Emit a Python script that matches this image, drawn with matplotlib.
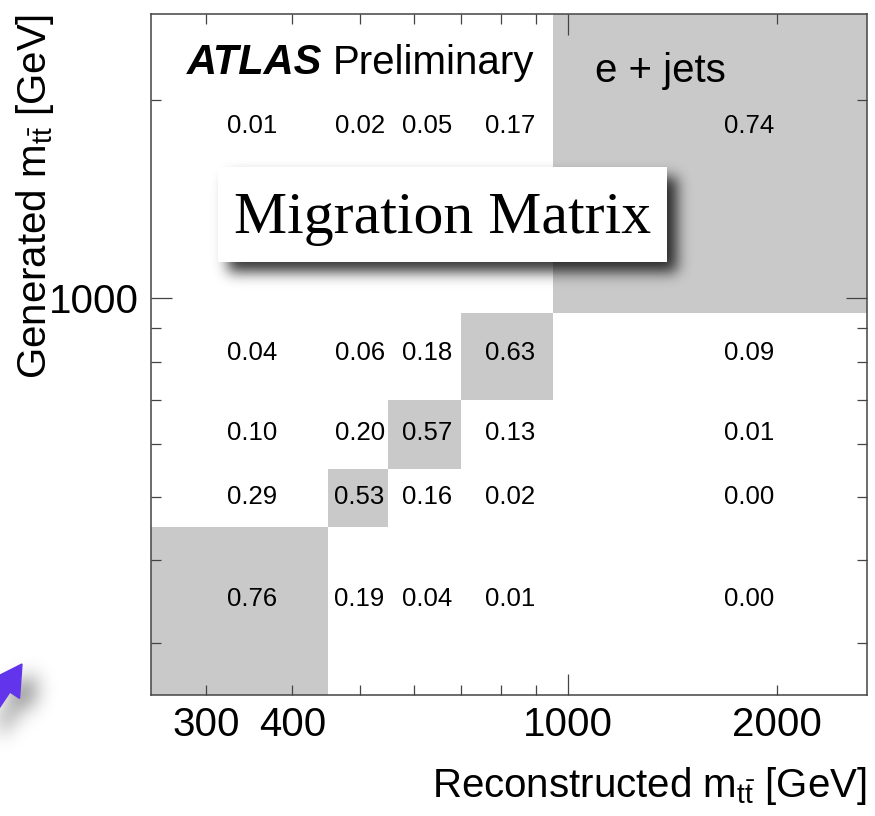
import math
import numpy as np
import matplotlib
matplotlib.use('Agg')
import matplotlib.pyplot as plt
from matplotlib.colors import ListedColormap, BoundaryNorm
from matplotlib.patches import Rectangle, FancyArrow
from matplotlib.path import Path
import matplotlib.ticker as mtick

plt.rcParams['font.family'] = 'Liberation Sans'
plt.rcParams['mathtext.fontset'] = 'custom'
plt.rcParams['mathtext.rm'] = 'Liberation Sans'
plt.rcParams['mathtext.it'] = 'Liberation Sans:italic'
plt.rcParams['mathtext.bf'] = 'Liberation Sans:bold'

# bin edges in m_tt [GeV], same binning on both axes
bin_edges = [250, 450, 550, 700, 950, 2700]
# rows: generated bin (low -> high), columns: reconstructed bin (low -> high)
migration = [
    [0.76, 0.19, 0.04, 0.01, 0.00],
    [0.29, 0.53, 0.16, 0.02, 0.00],
    [0.10, 0.20, 0.57, 0.13, 0.01],
    [0.04, 0.06, 0.18, 0.63, 0.09],
    [0.01, 0.02, 0.05, 0.17, 0.74],
]
xtick_labels = [300, 400, 1000, 2000]
ytick_labels = [1000]

W, H = 875, 816
fig = plt.figure(figsize=(W / 100, H / 100), dpi=100)
ax = fig.add_axes([151 / W, 1 - 695 / H, 716 / W, 681 / H])

edges = np.array(bin_edges, dtype=float)
vals = np.array(migration)
cmap = ListedColormap(['white', '#c9c9c9'])
norm = BoundaryNorm([0, 0.5, 1.0], cmap.N)
ax.pcolormesh(edges, edges, vals, cmap=cmap, norm=norm)

centers = 0.5 * (edges[:-1] + edges[1:])
for i, yc in enumerate(centers):
    for j, xc in enumerate(centers):
        ax.text(xc, yc, f'{vals[i, j]:.2f}', ha='center', va='center',
                fontsize=18.5, color='black')

ax.set_xscale('log')
ax.set_yscale('log')
ax.set_xlim(edges[0], edges[-1])
ax.set_ylim(edges[0], edges[-1])

def pick(labels):
    return mtick.FuncFormatter(lambda v, p: f'{v:.0f}' if int(round(v)) in labels else '')

ax.xaxis.set_major_formatter(pick(xtick_labels))
ax.xaxis.set_minor_formatter(pick(xtick_labels))
ax.yaxis.set_major_formatter(pick(ytick_labels))
ax.yaxis.set_minor_formatter(pick(ytick_labels))

ax.tick_params(which='both', direction='in', top=True, right=True,
               color='#444444', width=0.9, labelsize=29)
ax.tick_params(which='major', length=15)
ax.tick_params(which='minor', length=7.5)
ax.tick_params(axis='x', which='both', pad=8)
ax.tick_params(axis='y', which='both', pad=9)
for sp in ax.spines.values():
    sp.set_color('#444444')
    sp.set_linewidth(1.1)

ax.set_xlabel(r'Reconstructed m$_{\mathrm{t\bar{t}}}$ [GeV]', fontsize=29, loc='right')
ax.set_ylabel(r'Generated m$_{\mathrm{t\bar{t}}}$ [GeV]', fontsize=29, loc='top')
ax.xaxis.set_label_coords(1.0, -0.103)
ax.yaxis.set_label_coords(-0.132, 1.0)

ax.text(0.050, 0.912, 'ATLAS', transform=ax.transAxes, fontsize=30,
        fontweight='bold', fontstyle='italic', va='baseline')
ax.text(0.254, 0.912, 'Preliminary', transform=ax.transAxes, fontsize=29,
        va='baseline')
ax.text(0.620, 0.900, 'e + jets', transform=ax.transAxes, fontsize=29,
        va='baseline')

# overlay in pixel coordinates for the title card, arrow and their shadows
ov = fig.add_axes([0, 0, 1, 1], zorder=10)
ov.set_facecolor('none')
ov.axis('off')

box = (218, 167, 667, 262)
arrow = FancyArrow(-44, 763, 66, -99, width=11, head_width=34, head_length=30,
                   length_includes_head=True, color='#6234ec', zorder=4)


def gaussian_blur(img, sigma):
    r = int(3 * sigma)
    k = np.exp(-0.5 * (np.arange(-r, r + 1) / sigma) ** 2)
    k /= k.sum()
    img = np.apply_along_axis(lambda m: np.convolve(m, k, mode='same'), 0, img)
    img = np.apply_along_axis(lambda m: np.convolve(m, k, mode='same'), 1, img)
    return img


xx, yy = np.meshgrid(np.arange(W) + 0.5, np.arange(H) + 0.5)
dx, dy = 10, 10
box_mask = ((xx >= box[0] + dx) & (xx <= box[2] + dx) &
            (yy >= box[1] + dy) & (yy <= box[3] + dy)).astype(float)
arrow_verts = arrow.get_xy() + np.array([14, 10])
arrow_mask = Path(arrow_verts).contains_points(
    np.column_stack([xx.ravel(), yy.ravel()])).reshape(H, W).astype(float)

alpha = 0.8 * gaussian_blur(box_mask, 7) + 0.5 * gaussian_blur(arrow_mask, 10)
shadow = np.zeros((H, W, 4))
shadow[..., 3] = np.clip(alpha, 0, 1)
ov.imshow(shadow, extent=(0, W, H, 0), aspect='auto', zorder=1)

ov.add_patch(Rectangle((box[0], box[1]), box[2] - box[0], box[3] - box[1],
                       facecolor='white', edgecolor='none', zorder=2))
ov.text((box[0] + box[2]) / 2, 233, 'Migration Matrix', family='Liberation Serif',
        fontsize=43, ha='center', va='baseline', zorder=3)
ov.add_patch(arrow)
ov.set_xlim(0, W)
ov.set_ylim(H, 0)

fig.savefig('out.png', dpi=100)
